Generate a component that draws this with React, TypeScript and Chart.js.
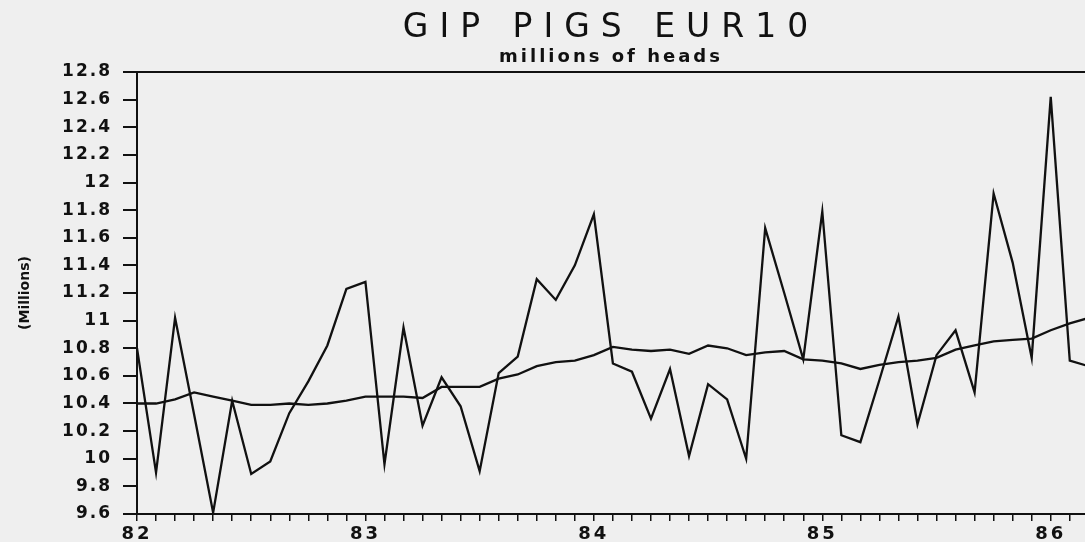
import { useEffect, useRef } from 'react';
import { Chart, registerables } from 'chart.js';

Chart.register(...registerables);

// Year labels placed every 12 months (month 0 = Jan 1982)
const yearLabels = ['82', '83', '84', '85', '86'];

// Monthly pig numbers (millions of heads), Jan 1982 onwards
const monthlyPigs = [
  10.8, 9.9, 11.02, 10.32, 9.61, 10.42, 9.89, 9.98, 10.33, 10.56, 10.82, 11.23,
  11.28, 9.96, 10.95, 10.24, 10.59, 10.38, 9.91, 10.62, 10.74, 11.3, 11.15, 11.4,
  11.77, 10.69, 10.63, 10.29, 10.65, 10.02, 10.54, 10.43, 10.0, 11.67, 11.2, 10.72,
  11.79, 10.17, 10.12, 10.57, 11.03, 10.25, 10.75, 10.93, 10.48, 11.92, 11.42, 10.73,
  12.62, 10.71, 10.67,
];

// Smoothed trend series
const trendPigs = [
  10.4, 10.4, 10.43, 10.48, 10.45, 10.42, 10.39, 10.39, 10.4, 10.39, 10.4, 10.42,
  10.45, 10.45, 10.45, 10.44, 10.52, 10.52, 10.52, 10.58, 10.61, 10.67, 10.7, 10.71,
  10.75, 10.81, 10.79, 10.78, 10.79, 10.76, 10.82, 10.8, 10.75, 10.77, 10.78, 10.72,
  10.71, 10.69, 10.65, 10.68, 10.7, 10.71, 10.73, 10.79, 10.82, 10.85, 10.86, 10.87,
  10.93, 10.98, 11.02,
];

const yMin = 9.6;
const yMax = 12.8;
const yStep = 0.2;
const xMin = 0;
const xMax = 49.8;

const FONT = 'DejaVu Sans';
const INK = '#111111';

const letterSpacingPlugin = {
  id: 'letterSpacingPlugin',
  beforeDraw(chart: any) {
    const wrap = (obj: any, method: string, spacing: string) => {
      if (!obj || obj['__sp_' + method]) return;
      const orig = obj[method];
      obj[method] = function (...args: any[]) {
        const c: any = this.ctx;
        const prev = c.letterSpacing;
        c.letterSpacing = spacing;
        try {
          return orig.apply(this, args);
        } finally {
          c.letterSpacing = prev === undefined ? '0px' : prev;
        }
      };
      obj['__sp_' + method] = true;
    };
    wrap(chart.titleBlock, 'draw', '11px');
    chart.boxes.forEach((b: any) => {
      if (b !== chart.titleBlock && !b.axis && b.options && typeof b.options.text === 'string') {
        wrap(b, 'draw', '3px');
      }
    });
    wrap(chart.scales.x, 'drawLabels', '3px');
    wrap(chart.scales.y, 'drawLabels', '2px');
  },
};

export default function App() {
  const ref = useRef<HTMLCanvasElement>(null);

  useEffect(() => {
    const canvas = ref.current;
    if (!canvas) return;
    const months = monthlyPigs.map((_, i) => i);

    const chart = new Chart(canvas, {
      type: 'line',
      data: {
        datasets: [
          {
            label: 'Monthly',
            data: months.map((m) => ({ x: m, y: monthlyPigs[m] })),
            borderColor: INK,
            borderWidth: 2.3,
            pointRadius: 0,
            tension: 0,
            fill: false,
            xAxisID: 'x',
            yAxisID: 'y',
          },
          {
            label: 'Trend',
            data: months.map((m) => ({ x: m, y: trendPigs[m] })),
            borderColor: INK,
            borderWidth: 2.3,
            pointRadius: 0,
            tension: 0,
            fill: false,
            xAxisID: 'x',
            yAxisID: 'y',
          },
        ],
      },
      options: {
        responsive: false,
        animation: false,
        events: [],
        layout: { padding: 0 },
        plugins: {
          legend: { display: false },
          tooltip: { enabled: false },
          title: {
            display: true,
            text: 'GIP PIGS EUR10',
            fullSize: false,
            color: INK,
            font: { family: FONT, size: 33, weight: 'normal', lineHeight: 1 },
            padding: { top: 12, bottom: 0 },
          },
          subtitle: {
            display: true,
            text: 'millions of heads',
            fullSize: false,
            color: INK,
            font: { family: FONT, size: 18, weight: 'bold', lineHeight: 1 },
            padding: { top: 3, bottom: 6 },
          },
        },
        scales: {
          x: {
            type: 'linear',
            position: 'bottom',
            min: xMin,
            max: xMax,
            bounds: 'data',
            afterFit: (s: any) => {
              s.height = 28;
            },
            ticks: {
              stepSize: 1,
              autoSkip: false,
              includeBounds: false,
              maxRotation: 0,
              padding: 3,
              color: INK,
              font: { family: FONT, size: 18, weight: 'bold' },
              callback: (v: any) => {
                const n = Number(v);
                if (Math.abs(n - Math.round(n)) > 1e-6) return null;
                const r = Math.round(n);
                return r % 12 === 0 ? yearLabels[r / 12] ?? '' : '';
              },
            },
            grid: {
              drawOnChartArea: false,
              drawTicks: true,
              tickLength: 7,
              color: INK,
              lineWidth: 1.5,
            },
            border: { display: true, color: INK, width: 2 },
          },
          xTop: {
            type: 'linear',
            position: 'top',
            min: xMin,
            max: xMax,
            bounds: 'data',
            afterFit: (s: any) => {
              s.height = 0;
            },
            ticks: { display: false },
            grid: { display: false, drawTicks: false },
            border: { display: true, color: INK, width: 2 },
          },
          y: {
            type: 'linear',
            position: 'left',
            min: yMin,
            max: yMax,
            afterFit: (s: any) => {
              s.width = 137;
            },
            ticks: {
              stepSize: yStep,
              padding: 11,
              color: INK,
              font: { family: FONT, size: 17, weight: 'bold' },
              callback: (v: any) => String(Math.round(Number(v) * 10) / 10),
            },
            grid: {
              drawOnChartArea: false,
              drawTicks: true,
              tickLength: 14,
              color: INK,
              lineWidth: 2,
            },
            border: { display: true, color: INK, width: 2 },
            title: {
              display: true,
              text: '(Millions)',
              color: INK,
              font: { family: FONT, size: 14, weight: 'bold', lineHeight: 1.2 },
              padding: { top: 17, bottom: 0 },
            },
          },
        },
      } as any,
      plugins: [letterSpacingPlugin],
    });

    return () => {
      chart.destroy();
    };
  }, []);

  return (
    <div
      style={{
        position: 'fixed',
        left: 0,
        top: 0,
        width: 1085,
        height: 542,
        background: '#efefef',
        overflow: 'hidden',
      }}
    >
      <canvas ref={ref} width={1085} height={542} style={{ display: 'block' }} />
    </div>
  );
}
